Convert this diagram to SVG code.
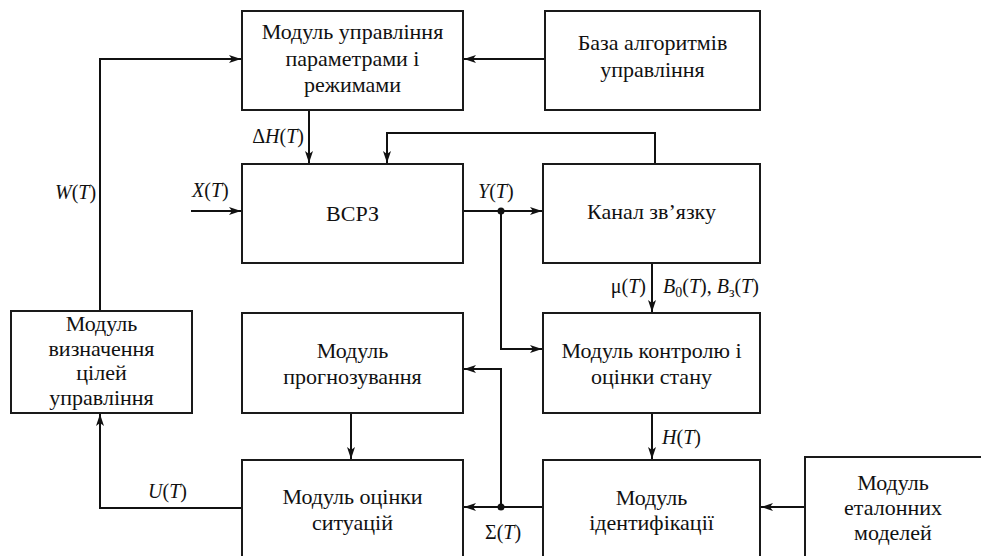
<svg xmlns="http://www.w3.org/2000/svg" width="981" height="556" viewBox="0 0 981 556" font-family="Liberation Serif, Times New Roman, DejaVu Serif, serif">
<style>
.box{fill:#fff;stroke:#1a1a1a;stroke-width:2}
.t{font-size:22px;fill:#111;text-anchor:middle}
.l{font-size:20px;font-style:italic;fill:#111}
.n{font-style:normal}
.c{fill:none;stroke:#111;stroke-width:2}
</style>
<defs>
<marker id="a" viewBox="0 0 12 8" refX="12" refY="4" markerWidth="12" markerHeight="8" markerUnits="userSpaceOnUse" orient="auto">
<path d="M0,0 L12,4 L0,8 L3,4 z" fill="#111"/>
</marker>
</defs>
<rect width="981" height="556" fill="#fff"/>
<g id="connectors">
<path class="c" d="M100,311 V59 H241" marker-end="url(#a)"/>
<path class="c" d="M545,59 H464" marker-end="url(#a)"/>
<path class="c" d="M309,110 V163" marker-end="url(#a)"/>
<path class="c" d="M655,164 V133 H387 V163" marker-end="url(#a)"/>
<path class="c" d="M191,211 H241" marker-end="url(#a)"/>
<path class="c" d="M463,211 H542" marker-end="url(#a)"/>
<path class="c" d="M501,211 V349 H542" marker-end="url(#a)"/>
<path class="c" d="M652,263 V312" marker-end="url(#a)"/>
<path class="c" d="M652,413 V459" marker-end="url(#a)"/>
<path class="c" d="M351,413 V459" marker-end="url(#a)"/>
<path class="c" d="M543,507 H464" marker-end="url(#a)"/>
<path class="c" d="M501,507 V369 H464" marker-end="url(#a)"/>
<path class="c" d="M805,507 H761" marker-end="url(#a)"/>
<path class="c" d="M242,508 H100 V414" marker-end="url(#a)"/>
<circle cx="501" cy="211" r="3.5" fill="#111"/>
<circle cx="501" cy="507" r="3.5" fill="#111"/>
<text class="l" x="304" y="143" text-anchor="end"><tspan class="n">Δ</tspan>H<tspan class="n">(</tspan>T<tspan class="n">)</tspan></text>
<text class="l" x="192" y="197">X<tspan class="n">(</tspan>T<tspan class="n">)</tspan></text>
<text class="l" x="55" y="199">W<tspan class="n">(</tspan>T<tspan class="n">)</tspan></text>
<text class="l" x="478" y="198">Y<tspan class="n">(</tspan>T<tspan class="n">)</tspan></text>
<text class="l" x="646" y="293" text-anchor="end"><tspan class="n">μ(</tspan>T<tspan class="n">)</tspan></text>
<text class="l" x="663" y="293">B<tspan class="n" font-size="14" dy="4">0</tspan><tspan class="n" dy="-4">(</tspan>T<tspan class="n">), </tspan>B<tspan class="n" font-size="14" dy="4">з</tspan><tspan class="n" dy="-4">(</tspan>T<tspan class="n">)</tspan></text>
<text class="l" x="662" y="444">H<tspan class="n">(</tspan>T<tspan class="n">)</tspan></text>
<text class="l" x="485" y="539"><tspan class="n">Σ(</tspan>T<tspan class="n">)</tspan></text>
<text class="l" x="148" y="498">U<tspan class="n">(</tspan>T<tspan class="n">)</tspan></text>
</g>
<g id="n_upr">
<rect class="box" x="242" y="11" width="221" height="99"/>
<text class="t" x="352.5" y="39">Модуль управління</text>
<text class="t" x="352.5" y="66">параметрами і</text>
<text class="t" x="352.5" y="92">режимами</text>
</g>
<g id="n_baza">
<rect class="box" x="545" y="11" width="215" height="99"/>
<text class="t" x="652.5" y="50">База алгоритмів</text>
<text class="t" x="652.5" y="77">управління</text>
</g>
<g id="n_vsrz">
<rect class="box" x="242" y="164" width="221" height="99"/>
<text class="t" x="352.5" y="221">ВСРЗ</text>
</g>
<g id="n_kanal">
<rect class="box" x="543" y="164" width="217" height="99"/>
<text class="t" x="651.5" y="219">Канал зв’язку</text>
</g>
<g id="n_cili">
<rect class="box" x="11" y="311" width="181" height="102"/>
<text class="t" x="101.5" y="331">Модуль</text>
<text class="t" x="101.5" y="356">визначення</text>
<text class="t" x="101.5" y="380">цілей</text>
<text class="t" x="101.5" y="405">управління</text>
</g>
<g id="n_progn">
<rect class="box" x="242" y="313" width="221" height="100"/>
<text class="t" x="352.5" y="358">Модуль</text>
<text class="t" x="352.5" y="384">прогнозування</text>
</g>
<g id="n_kontr">
<rect class="box" x="543" y="313" width="217" height="100"/>
<text class="t" x="651.5" y="358">Модуль контролю і</text>
<text class="t" x="651.5" y="384">оцінки стану</text>
</g>
<g id="n_sit">
<rect class="box" x="242" y="460" width="221" height="120"/>
<text class="t" x="352.5" y="504">Модуль оцінки</text>
<text class="t" x="352.5" y="530">ситуацій</text>
</g>
<g id="n_ident">
<rect class="box" x="543" y="460" width="217" height="120"/>
<text class="t" x="651.5" y="505">Модуль</text>
<text class="t" x="651.5" y="530">ідентифікації</text>
</g>
<g id="n_etal">
<rect class="box" x="805" y="457" width="200" height="120"/>
<text class="t" x="893" y="490">Модуль</text>
<text class="t" x="893" y="515">еталонних</text>
<text class="t" x="893" y="540">моделей</text>
</g>
</svg>
